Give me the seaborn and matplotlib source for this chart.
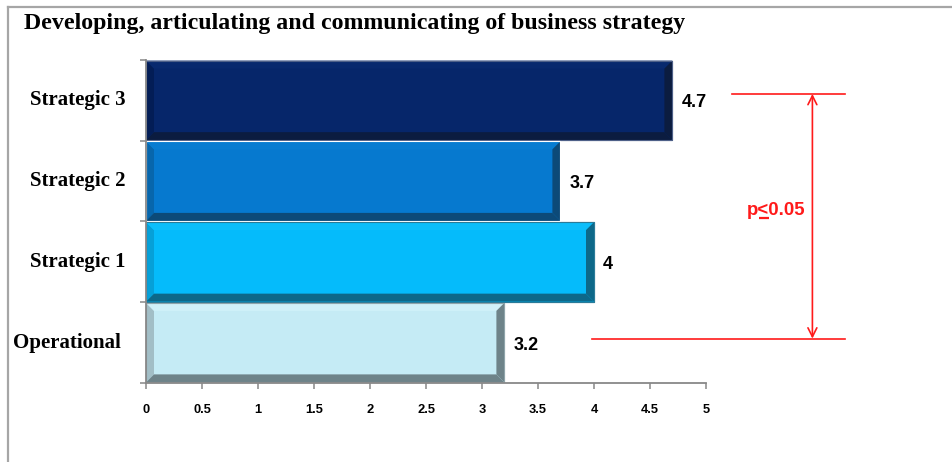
import matplotlib
matplotlib.use("Agg")
import matplotlib.pyplot as plt
import matplotlib.transforms as mtransforms
from matplotlib.patches import Polygon
from matplotlib.lines import Line2D
import numpy as np
import pandas as pd
import seaborn as sns

# ---- data ----
categories = ["Strategic 3", "Strategic 2", "Strategic 1", "Operational"]
scores = [4.7, 3.7, 4.0, 3.2]
score_labels = ["4.7", "3.7", "4", "3.2"]
x_ticks = [0, 0.5, 1, 1.5, 2, 2.5, 3, 3.5, 4, 4.5, 5]
x_tick_labels = ["0", "0.5", "1", "1.5", "2", "2.5", "3", "3.5", "4", "4.5", "5"]
title_text = "Developing, articulating and communicating of business strategy"
sig_prefix, sig_symbol, sig_value = "p", "<", "0.05"

# ---- bar styling (face, left bevel, top bevel, shaded bevel, outline) ----
face_colors = ["#06266A", "#0679CF", "#05BBFB", "#C5EBF5"]
left_colors = ["#031D56", "#0766AC", "#06A0D8", "#A2BEC6"]
top_colors = ["#08296E", "#077CD1", "#0CBEFB", "#D0F1F9"]
shade_colors = ["#0B1C40", "#0C4A78", "#0D6889", "#6E8389"]
edge_colors = ["#4E6088", "#FFFFFF", "#2A7B99", "#8FA4AA"]

W, H, DPI = 952, 462, 100
fig = plt.figure(figsize=(W / DPI, H / DPI), dpi=DPI)
fig.patch.set_facecolor("white")

ax_left, ax_right, ax_top, ax_bottom = 146, 706, 60, 383
ax = fig.add_axes([ax_left / W, 1 - ax_bottom / H,
                   (ax_right - ax_left) / W, (ax_bottom - ax_top) / H])

df = pd.DataFrame({"category": categories, "score": scores})
sns.barplot(data=df, x="score", y="category", hue="category", order=categories,
            hue_order=categories, palette=face_colors, saturation=1,
            orient="h", width=0.985, legend=False, ax=ax)

ax.set_xlim(0, 5)
ax.set_ylim(len(categories) - 0.5, -0.5)
ax.set_facecolor("white")
ax.grid(False)

# ---- bevelled bars ----
bevel_px = 8
inv = ax.transData.inverted()
for patch in ax.patches:
    bb = patch.get_window_extent()
    yc = patch.get_y() + patch.get_height() / 2
    i = int(round(yc))
    patch.set_edgecolor(edge_colors[i])
    patch.set_linewidth(0.8)
    x0, y0, x1, y1 = bb.x0, bb.y0, bb.x1, bb.y1
    b = bevel_px
    polys = [
        ([(x0, y0), (x0 + b, y0 + b), (x0 + b, y1 - b), (x0, y1)], left_colors[i]),
        ([(x0, y1), (x0 + b, y1 - b), (x1 - b, y1 - b), (x1, y1)], top_colors[i]),
        ([(x1, y1), (x1 - b, y1 - b), (x1 - b, y0 + b), (x1, y0)], shade_colors[i]),
        ([(x0, y0), (x1, y0), (x1 - b, y0 + b), (x0 + b, y0 + b)], shade_colors[i]),
    ]
    for pts, col in polys:
        data_pts = inv.transform(np.array(pts))
        ax.add_patch(Polygon(data_pts, closed=True, facecolor=col,
                             edgecolor="none", zorder=patch.get_zorder() + 0.1))
    # thin outline on top of the bevels
    ax.add_patch(Polygon(inv.transform(np.array([(x0, y0), (x1, y0), (x1, y1), (x0, y1)])),
                         closed=True, facecolor="none", edgecolor=edge_colors[i],
                         linewidth=0.8, zorder=patch.get_zorder() + 0.2))

# ---- value labels ----
num_font = "Liberation Sans"
for i, cont in enumerate(ax.containers):
    anns = ax.bar_label(cont, labels=[score_labels[i]], padding=6.5,
                        fontsize=13, fontweight="bold", family=num_font, color="black")
    for ann in anns:
        ann.xyann = (6.5, -1.8)

# ---- axes ----
axis_gray = "#888888"
for side in ["top", "right"]:
    ax.spines[side].set_visible(False)
for side in ["left", "bottom"]:
    ax.spines[side].set_visible(True)
    ax.spines[side].set_color(axis_gray)
    ax.spines[side].set_linewidth(1.3)

ax.set_xticks(x_ticks)
ax.set_xticklabels(x_tick_labels, fontsize=9.3, fontweight="bold", family=num_font)
ax.tick_params(axis="x", direction="out", length=4.3, width=1.1, color=axis_gray,
               pad=10.5, labelcolor="black", bottom=True)
ax.set_yticks(np.arange(len(categories) + 1) - 0.5, minor=True)
ax.set_yticks(range(len(categories)))
ax.set_yticklabels([""] * len(categories))
ax.tick_params(axis="y", which="major", length=0, left=False)
ax.tick_params(axis="y", which="minor", direction="out", length=4.3, width=1.1,
               color=axis_gray, left=True)
ax.set_xlabel("")
ax.set_ylabel("")

# category labels
label_left_px = {"Operational": 13}
tr = mtransforms.blended_transform_factory(fig.transFigure, ax.transData)
for i, cat in enumerate(categories):
    ax.text(label_left_px.get(cat, 30) / W, i, cat, transform=tr,
            ha="left", va="center", fontsize=15, fontweight="bold",
            family="Liberation Serif", color="black", clip_on=False)

# ---- title ----
fig.text(24 / W, 1 - 23 / H, title_text, ha="left", va="center",
         fontsize=17.2, fontweight="bold", family="Liberation Serif", color="black")

# ---- significance bracket ----
red = "#FF1A1A"
i_top = categories.index("Strategic 3")
i_bot = categories.index("Operational")
y_top = i_top - 0.08
y_bot = i_bot - 0.05
x_arrow = 5.95
ax.plot([5.23, 6.24], [y_top, y_top], color=red, lw=1.2, clip_on=False)
ax.plot([3.98, 6.24], [y_bot, y_bot], color=red, lw=1.2, clip_on=False)
ax.annotate("", xy=(x_arrow, y_top), xytext=(x_arrow, y_bot),
            arrowprops=dict(arrowstyle="<->", color=red, lw=1.2,
                            shrinkA=0, shrinkB=0, mutation_scale=16),
            annotation_clip=False)

sig_kw = dict(fontsize=13.4, fontweight="bold", family="Liberation Sans", color=red)
y_sig = 1.42
x_text_right = x_arrow - 0.06
renderer = fig.canvas.get_renderer()
full = ax.text(x_text_right, y_sig, sig_prefix + sig_symbol + sig_value,
               ha="right", va="baseline", clip_on=False, **sig_kw)
fb = full.get_window_extent(renderer)
_, _, descent = renderer.get_text_width_height_descent(
    sig_prefix + sig_symbol + sig_value, full.get_fontproperties(), ismath=False)
baseline_px = fb.y0 + descent
# underline beneath the comparison sign
tmp1 = fig.text(0, 0, sig_prefix, **sig_kw)
tmp2 = fig.text(0, 0, sig_prefix + sig_symbol, **sig_kw)
w1 = tmp1.get_window_extent(renderer).width
w2 = tmp2.get_window_extent(renderer).width
tmp1.remove()
tmp2.remove()
ux0, ux1 = fb.x0 + w1 + 0.5, fb.x0 + w2 - 0.5
uy = baseline_px - 2.5
pts = inv.transform(np.array([(ux0, uy), (ux1, uy)]))
ax.plot(pts[:, 0], pts[:, 1], color=red, lw=1.6, clip_on=False, solid_capstyle="butt")

# ---- frame around the chart area ----
frame_gray = "#A6A6A6"
fy = 1 - 7 / H
fx = 8 / W
fig.add_artist(Line2D([fx, 1], [fy, fy], transform=fig.transFigure, color=frame_gray, lw=1.6))
fig.add_artist(Line2D([fx, fx], [0, fy], transform=fig.transFigure, color=frame_gray, lw=1.6))

fig.savefig("out.png", dpi=DPI, facecolor="white")
